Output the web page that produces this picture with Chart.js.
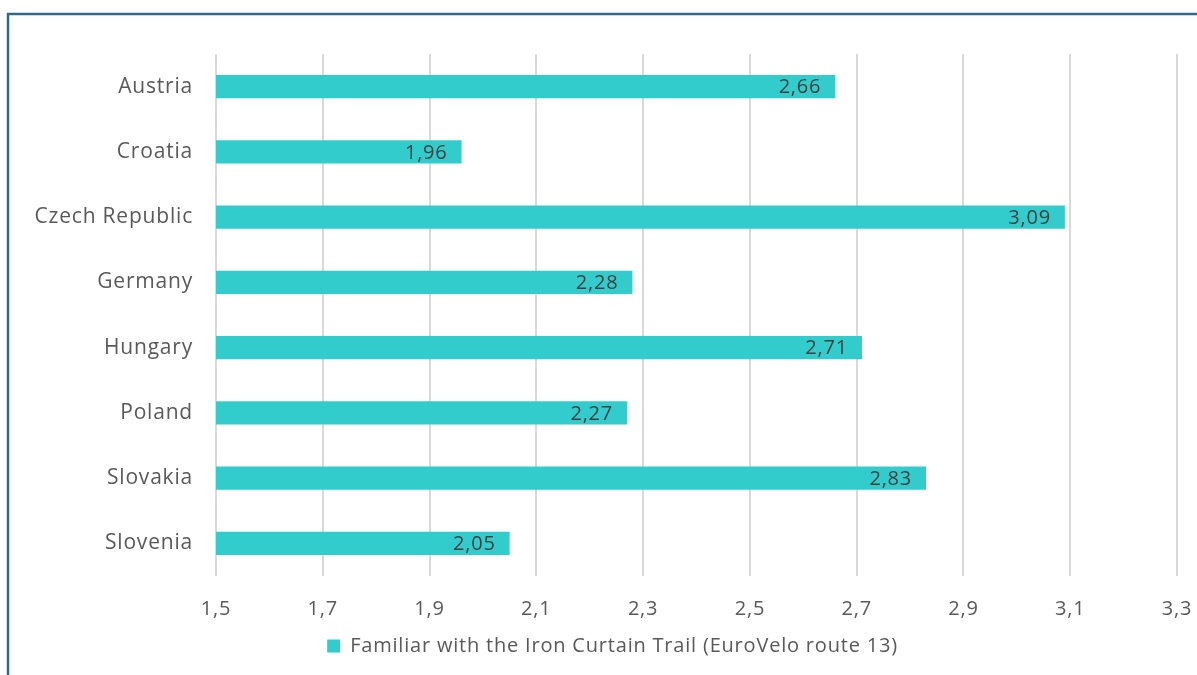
<!DOCTYPE html>
<html>
<head>
<meta charset="utf-8">
<script src="https://cdn.jsdelivr.net/npm/chart.js@4/dist/chart.umd.min.js"></script>
<style>
  html, body { margin: 0; padding: 0; background: #ffffff; }
  #wrap { width: 1197px; height: 675px; position: relative; }
</style>
</head>
<body>
<div id="wrap"><canvas id="c" width="1197" height="675"></canvas></div>
<script>
const countries = ['Austria', 'Croatia', 'Czech Republic', 'Germany', 'Hungary', 'Poland', 'Slovakia', 'Slovenia'];
const familiarValues = [2.66, 1.96, 3.09, 2.28, 2.71, 2.27, 2.83, 2.05];
const seriesName = 'Familiar with the Iron Curtain Trail (EuroVelo route 13)';
const xMin = 1.5, xMax = 3.3, xStep = 0.2;

const FONT = '"Open Sans", Roboto, sans-serif';
const SPACING = '0.8px';
const LEGEND_SHIFT = 10;
const fmt = v => v.toFixed(2).replace('.', ',');

// Slightly open letter spacing for all chart text
const spacingPlugin = {
  id: 'spacing',
  beforeUpdate(chart) { chart.ctx.letterSpacing = SPACING; },
  beforeDraw(chart) { chart.ctx.letterSpacing = SPACING; }
};

// Centre the legend under the plot rather than the whole canvas
const legendShift = {
  id: 'legendShift',
  afterInit(chart) {
    const lg = chart.legend;
    if (!lg) return;
    const orig = lg.draw.bind(lg);
    lg.draw = function (...args) {
      const ctx = chart.ctx;
      ctx.save();
      ctx.translate(LEGEND_SHIFT, 0);
      orig(...args);
      ctx.restore();
    };
  }
};

// Frame line along the top and left edges
const framePlugin = {
  id: 'frame',
  beforeDraw(chart) {
    const ctx = chart.ctx;
    ctx.save();
    ctx.fillStyle = '#ffffff';
    ctx.fillRect(0, 0, chart.width, chart.height);
    ctx.strokeStyle = '#2e6b8a';
    ctx.lineWidth = 2.5;
    ctx.beginPath();
    ctx.moveTo(8, chart.height + 5);
    ctx.lineTo(8, 14);
    ctx.lineTo(chart.width + 5, 14);
    ctx.stroke();
    ctx.restore();
  }
};

// Value labels drawn inside the end of each bar
const valueLabels = {
  id: 'valueLabels',
  afterDatasetsDraw(chart) {
    const ctx = chart.ctx;
    ctx.save();
    ctx.font = '20px ' + FONT;
    ctx.fillStyle = '#404040';
    ctx.textAlign = 'right';
    ctx.textBaseline = 'middle';
    chart.getDatasetMeta(0).data.forEach((bar, i) => {
      ctx.fillText(fmt(familiarValues[i]), bar.x - 14, bar.y + 1);
    });
    ctx.restore();
  }
};

new Chart(document.getElementById('c'), {
  type: 'bar',
  data: {
    labels: countries,
    datasets: [{
      label: seriesName,
      data: familiarValues,
      backgroundColor: '#33cccc',
      borderWidth: 0,
      barPercentage: 0.72,
      categoryPercentage: 0.5
    }]
  },
  options: {
    indexAxis: 'y',
    responsive: false,
    animation: false,
    layout: { padding: { left: 28, right: 20, top: 54, bottom: 9 } },
    scales: {
      x: {
        min: xMin, max: xMax,
        grid: { color: '#d9d9d9', lineWidth: 2, drawTicks: false },
        border: { display: false },
        ticks: {
          stepSize: xStep,
          padding: 21,
          color: '#595959',
          font: { family: FONT, size: 20 },
          callback: v => v.toFixed(1).replace('.', ',')
        },
        afterFit(scale) {
          scale.height = 50;
          scale.paddingLeft = 0;
          scale.paddingRight = 0;
        }
      },
      y: {
        grid: { display: false, drawTicks: false },
        border: { display: false },
        ticks: {
          padding: 23,
          color: '#595959',
          font: { family: FONT, size: 21 }
        },
        afterFit(scale) { scale.width = 188; }
      }
    },
    plugins: {
      legend: {
        position: 'bottom',
        labels: {
          boxWidth: 13,
          boxHeight: 13,
          padding: 10,
          color: '#595959',
          font: { family: FONT, size: 20 }
        }
      },
      tooltip: { enabled: false }
    }
  },
  plugins: [spacingPlugin, legendShift, framePlugin, valueLabels]
});
</script>
</body>
</html>
